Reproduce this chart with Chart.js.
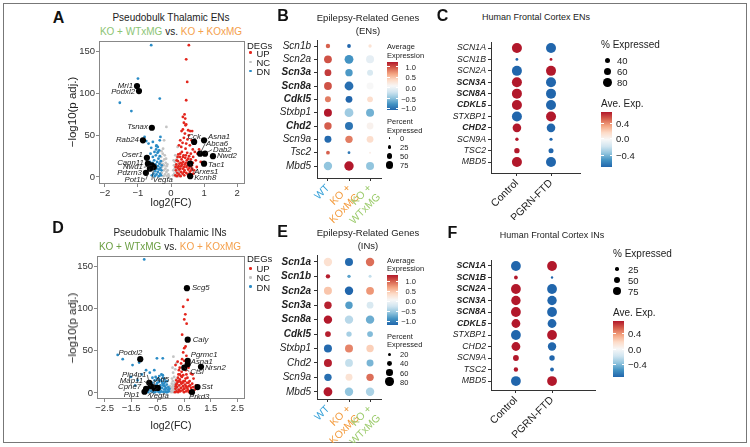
<!DOCTYPE html>
<html>
<head>
<meta charset="utf-8">
<script src="https://cdn.jsdelivr.net/npm/chart.js@4.4.1/dist/chart.umd.min.js"></script>
<style>
  body { margin: 0; background: #fff; }
  #fig { position: relative; width: 750px; height: 447px; overflow: hidden; background: #fff; }
  #fig canvas { position: absolute; }
  .t { position: absolute; white-space: nowrap; line-height: 1; color: #222; }
  .frame { position: absolute; left: 3px; top: 3px; width: 742px; height: 438px; border: 1.5px solid #777; }
</style>
</head>
<body>
<div id="fig"><div class="frame"></div></div>
<script>
// ---------- data ----------
// A: pseudobulk thalamic ENs, points are [log2FC, -log10(p adj.)]
const aUp = [
  [0.13,2],[0.15,8],[0.16,15],[0.18,1],[0.19,5],[0.20,11],[0.21,19],[0.22,27],[0.24,3],[0.25,9],
  [0.26,16],[0.27,24],[0.29,1],[0.30,6],[0.31,13],[0.32,21],[0.33,30],[0.35,4],[0.36,10],[0.37,18],
  [0.38,26],[0.40,2],[0.41,8],[0.42,15],[0.43,23],[0.44,34],[0.46,5],[0.47,12],[0.48,20],[0.49,29],
  [0.51,3],[0.52,9],[0.53,17],[0.55,25],[0.57,6],[0.58,13],[0.60,21],[0.62,3],[0.64,10],[0.66,17],
  [0.14,12],[0.17,20],[0.23,13],[0.28,10],[0.34,15],[0.39,6],[0.45,17],[0.50,14],[0.54,1],[0.56,11],
  [0.59,17],[0.61,8],[0.63,14],[0.68,4],[0.20,24],[0.28,28],[0.36,24],[0.45,26],[0.52,22],[0.60,28],
  [0.67,24],[0.30,17],[0.40,12],[0.70,8],[0.75,20],[0.80,28],[0.85,33],[0.72,30],[0.90,18],[0.78,12],
  [0.24,38],[0.28,44],[0.31,36],[0.35,41],[0.39,47],[0.42,52],[0.46,40],[0.50,45],[0.54,50],[0.57,38],
  [0.62,44],[0.66,33],[0.36,57],[0.44,62],[0.52,56],[0.58,55],[0.64,55],[0.32,55],[0.36,72],[0.43,70],
  [0.39,65],[0.46,63],[0.41,75],[0.54,158],[0.46,141],[0.49,114],[0.46,92]
];
const aNc = [
  [-0.33,2],[-0.32,9],[-0.31,16],[-0.30,24],[-0.28,5],[-0.27,12],[-0.26,19],[-0.25,28],[-0.23,1],[-0.22,8],
  [-0.21,14],[-0.20,21],[-0.18,3],[-0.17,10],[-0.16,17],[-0.14,6],[-0.13,13],[-0.12,1],[-0.10,8],[-0.08,3],
  [-0.06,1],[-0.24,34],[-0.19,26],[-0.15,22],[-0.21,44],[-0.14,60],[-0.29,31],[-0.11,15],[-0.24,15],
  [0.06,2],[0.07,8],[0.09,14],[0.10,4],[0.11,10],[0.12,18],[0.14,1],[0.15,6],[0.16,12],[0.18,22],
  [0.19,3],[0.20,9],[0.22,15],[0.23,1],[0.25,6],[0.26,11],[0.08,20],[0.13,26],[0.20,36],[0.27,2]
];
const aDn = [
  [-0.58,2],[-0.57,9],[-0.56,17],[-0.55,24],[-0.53,4],[-0.52,12],[-0.51,20],[-0.49,1],[-0.48,7],[-0.47,15],
  [-0.46,26],[-0.45,33],[-0.44,3],[-0.43,10],[-0.42,18],[-0.41,29],[-0.40,6],[-0.39,13],[-0.38,22],[-0.37,1],
  [-0.36,9],[-0.35,16],[-0.34,25],[-0.33,4],[-0.32,11],[-0.31,19],[-0.30,2],[-0.29,8],[-0.28,14],[-0.50,30],
  [-0.44,38],[-0.40,36],[-0.36,32],[-0.62,28],[-0.64,18],[-0.66,10],[-0.60,158],[-1.00,118],[-1.55,89],
  [-1.20,79],[-0.34,94],[-0.75,43],[-0.68,40],[-0.45,37],[-0.34,44],[-0.32,48],[-0.80,48],[-0.55,42],
  [-0.39,30],[-0.60,35]
];
const aGenes = [
  ['Mri1',-1.03,109],['Podxl2',-0.97,103],['Tsnax',-0.58,59],['Rab24',-0.85,44],['Oser1',-0.73,23],
  ['Capn11',-0.70,16],['Nwd1',-0.58,14],['Pdzrn3',-0.76,5],['Pot1b',-0.64,10],['Vegfa',-0.52,12],
  ['Cck',0.70,42],['Asna1',1.00,44],['Abca6',0.88,28],['Dab2',1.03,28],['Nwd2',1.27,25],
  ['Tac1',1.00,16],['Arxes1',0.58,16],['Kcnh8',0.58,1]
];
const aXTicks = [-2, -1, 0, 1, 2];
const aYTicks = [0, 50, 100, 150];

// D: pseudobulk thalamic INs
const dUp = [
  [0.15,1],[0.17,5],[0.19,10],[0.21,2],[0.23,7],[0.25,13],[0.27,1],[0.29,4],[0.31,9],[0.33,16],
  [0.35,2],[0.37,6],[0.39,11],[0.41,19],[0.43,3],[0.45,8],[0.47,14],[0.49,1],[0.51,5],[0.53,10],
  [0.55,17],[0.57,2],[0.59,7],[0.61,12],[0.64,3],[0.67,8],[0.70,14],[0.73,2],[0.76,6],[0.80,11],
  [0.85,17],[0.90,4],[0.94,9],[0.81,22],[0.75,23],[0.40,25],[0.28,22],[0.20,15],[0.36,13],[0.46,21],
  [0.62,18],[0.68,1],[0.26,18],[0.52,14],[0.58,22],[0.22,11],[0.32,3],[0.44,12],[0.48,5],[0.56,8],
  [0.66,12],[0.72,9],[0.78,1],[0.84,7],[0.30,14],[0.38,20],[0.62,5],[0.18,8],
  [0.17,33],[0.25,37],[0.33,30],[0.42,40],[0.46,48],
  [0.58,44],[0.56,27],[0.33,22],[0.38,35],[0.50,38],[0.66,30],[0.30,27],[0.63,110],[0.46,102],[0.54,93],
  [0.50,87],[0.59,82],[0.42,69],[0.55,55],[0.50,53]
];
const dNc = [
  [0.01,1],[0.02,6],[0.03,11],[0.05,3],[0.06,8],[0.07,14],[0.09,1],[0.10,5],[0.11,10],[0.13,2],
  [0.14,7],[0.15,12],[0.17,4],[0.18,9],[0.20,1],[0.21,6],[0.23,3],[0.24,8],[0.04,17],[0.12,19],
  [0.08,24],[0.16,28],[0.09,43],[0.20,35],[-0.03,3],[-0.05,8],[0.19,16],[0.06,30]
];
const dDn = [
  [-0.95,2],[-0.90,6],[-0.86,1],[-0.82,4],[-0.78,9],[-0.75,2],[-0.72,6],[-0.70,12],[-0.67,3],[-0.64,8],
  [-0.62,15],[-0.60,1],[-0.57,5],[-0.55,10],[-0.53,17],[-0.50,2],[-0.48,7],[-0.46,13],[-0.44,1],[-0.42,4],
  [-0.40,9],[-0.38,15],[-0.36,2],[-0.34,6],[-0.32,11],[-0.30,18],[-0.28,1],[-0.26,4],[-0.24,8],[-0.22,13],
  [-0.20,2],[-0.18,6],[-0.16,10],[-0.14,1],[-0.12,4],[-0.10,7],[-0.08,2],[-0.06,5],[-0.44,20],[-0.58,19],
  [-0.25,16],[-0.36,22],[-0.70,18],[-0.85,12],[-0.52,12],[-0.29,9],[-0.15,14],[-0.66,1],
  [-0.41,1],[-0.34,13],[-0.47,3],[-0.56,7],[-0.21,5],[-0.27,11],[-0.39,6],[-0.62,4],[-0.18,1],[-0.45,16],
  [-1.01,158],[-2.01,45],[-1.82,40],[-1.45,33],[-1.20,36],[-0.53,41],[-0.31,41],[-0.94,27],[-1.51,19],
  [-1.26,15],[-0.63,27],[-0.31,21],[-1.10,22],[-0.80,24],[-1.35,9]
];
const dGenes = [
  ['Scg5',0.60,124],['Caly',0.63,63],['Podxl2',-1.16,40],['Pgrmc1',0.63,38],['Asna1',0.63,34],
  ['Nrsn2',1.13,31],['Ctsl',0.50,30],['Sst',1.00,7],['Prkd3',0.79,1],['Pip4p1',-0.82,12],
  ['Map11',-0.75,8],['Cpne7',-0.94,5],['Plp1',-1.00,1.5],['Atf5',-0.63,6],['Vegfa',-0.50,6]
];
const dXTicks = [-2.5, -1.5, -0.5, 0.5, 1.5, 2.5];
const dYTicks = [0, 50, 100, 150];

// B / E: mouse dot plots, rows = genes, columns = groups
const mouseGroups = [['WT'], ['KO +', 'KOxMG'], ['KO +', 'WTxMG']];
const bGenes = ['Scn1b','Scn2a','Scn3a','Scn8a','Cdkl5','Stxbp1','Chd2','Scn9a','Tsc2','Mbd5'];
const bBold = ['Scn3a','Scn8a','Cdkl5','Chd2'];
const bPct = [[33,26,21],[74,86,76],[62,69,52],[74,86,64],[52,62,50],[76,86,76],[69,76,62],[64,69,62],[26,14,5],[81,93,76]];
const bAvg = [[0.75,-1.0,0.18],[0.8,-0.75,-0.12],[0.88,-0.72,-0.2],[0.8,-0.95,0.0],[0.65,-1.0,0.22],
              [1.0,-0.45,-0.6],[0.76,-0.92,0.05],[-0.98,0.65,0.22],[0.75,-0.9,0.08],[-0.5,1.0,-0.5]];
const eGenes = ['Scn1a','Scn1b','Scn2a','Scn3a','Scn8a','Cdkl5','Stxbp1','Chd2','Scn9a','Mbd5'];
const eBold = ['Scn1a','Scn1b','Scn2a','Scn3a','Scn8a','Cdkl5'];
const ePct = [[81,76,81],[33,21,17],[76,81,74],[69,69,62],[81,81,81],[50,45,50],[76,76,69],[76,74,64],[69,64,69],[86,81,81]];
const eAvg = [[0.2,-0.98,0.7],[0.98,-0.68,-0.3],[0.35,-1.0,0.55],[0.97,-0.7,-0.2],[1.0,-0.35,-0.62],
              [0.98,-0.42,-0.55],[-0.98,0.62,0.3],[0.98,-0.3,-0.58],[-0.95,0.18,0.7],[1.0,-0.5,-0.4]];
const bSizeKeys = [0, 25, 50, 75];
const eSizeKeys = [20, 40, 60, 80];

// C / F: human frontal cortex dot plots
const humanGroups = ['Control', 'PGRN-FTD'];
const humanGenes = ['SCN1A','SCN1B','SCN2A','SCN3A','SCN8A','CDKL5','STXBP1','CHD2','SCN9A','TSC2','MBD5'];
const cBold = ['SCN3A','SCN8A','CDKL5','CHD2'];
const fBold = ['SCN1A','SCN1B','SCN2A','SCN3A','SCN8A','CDKL5'];
const cPct = [[90,90],[18,18],[90,90],[90,90],[90,90],[90,90],[90,90],[76,76],[24,22],[44,40],[90,90]];
const cAvg = [[0.71,-0.71],[-0.71,0.71],[-0.71,0.71],[0.71,-0.71],[0.71,-0.71],[0.71,-0.71],
              [-0.71,0.71],[0.71,-0.71],[0.71,-0.71],[0.71,-0.71],[0.71,-0.71]];
const fPct = [[88,88],[28,14],[88,88],[84,84],[88,88],[78,78],[88,88],[78,74],[48,44],[34,28],[88,88]];
const fAvg = [[-0.71,0.71],[0.71,-0.71],[0.71,-0.71],[0.71,-0.71],[0.71,-0.71],[0.71,-0.71],
              [-0.71,0.71],[0.71,-0.71],[0.71,-0.71],[0.71,-0.71],[-0.71,0.71]];
const cSizeKeys = [40, 60, 80];
const fSizeKeys = [25, 50, 75];

// ---------- style ----------
const FONT = "'Liberation Sans', Arial, Helvetica, sans-serif";
const RED = '#e3261d', BLUE = '#2b8cc6', GRAY = '#c4c4c4';
const GREEN_A = '#8cc474', GREEN_D = '#6c9f43', ORANGE = '#f4a04c';
const GROUP_COLORS = ['#35a0d8', '#f39a3b', '#9ccb6c'];
const RDBU = ['#2166ac','#4393c3','#92c5de','#d1e5f0','#f7f7f7','#fddbc7','#f4a582','#d6604d','#b2182b'];
// gene label offsets [dx, dy, align, leader]
const aLab = [
  [-4,0,'right',0],[-4,1,'right',0],[-4,-1,'right',0],[-4,0,'right',0],[-4,-3,'right',0],
  [-4,-1,'right',0],[-9,2,'right',1],[-4,0,'right',0],[-5,11,'right',1],[-1,13,'left',1],
  [0,-5,'center',0],[4,-3,'left',0],[6,-10,'left',1],[8,-4,'left',1],[4,0,'left',0],
  [4,1,'left',0],[4,8,'left',1],[4,2,'left',0]
];
const dLab = [
  [5,0,'left',0],[5,0,'left',0],[2,-6,'right',0],[3,-6,'left',0],[3,-2,'left',0],
  [4,1,'left',0],[6,4,'left',1],[4,0,'left',0],[-3,5,'left',0],[-3,-8,'right',1],
  [-8,-5,'right',1],[-5,-2,'right',0],[-5,3,'right',0],[1,-8,'left',1],[-9,8,'left',1]
];
const rMouse = p => 0.8 + 0.042 * p;
const rHuman = p => 0.5 + 0.05 * p;

// ---------- helpers ----------
const fig = document.getElementById('fig');

function txt(html, x, y, o = {}) {
  const d = document.createElement('div');
  d.className = 't';
  d.innerHTML = html;
  const ax = o.align === 'left' ? '0' : o.align === 'right' ? '-100%' : '-50%';
  d.style.left = x + 'px';
  d.style.top = y + 'px';
  d.style.transform = 'translate(' + ax + ',-50%)' + (o.rot ? ' rotate(' + o.rot + 'deg)' : '');
  d.style.font = (o.style || 'normal') + ' ' + (o.weight || 'normal') + ' ' + (o.size || 10) + 'px ' + FONT;
  if (o.color) d.style.color = o.color;
  fig.appendChild(d);
}

function box(l, t, w, h, bg) {
  const d = document.createElement('div');
  Object.assign(d.style, { position: 'absolute', left: l + 'px', top: t + 'px', width: w + 'px', height: h + 'px', background: bg });
  fig.appendChild(d);
  return d;
}

function dot(x, y, r, col) {
  box(x - r, y - r, 2 * r, 2 * r, col).style.borderRadius = '50%';
}

// colour bar with white tick marks at the label positions
function colorbar(l, t, w, h, tickYs) {
  box(l, t, w, h, 'linear-gradient(to bottom,' + RDBU.slice().reverse().join(',') + ')');
  tickYs.forEach(y => {
    box(l, y - 0.5, 2.5, 1, '#fff');
    box(l + w - 2.5, y - 0.5, 2.5, 1, '#fff');
  });
}

function hex2rgb(h) {
  const n = parseInt(h.slice(1), 16);
  return [n >> 16, (n >> 8) & 255, n & 255];
}

function rdbu(v, lim) {
  const t = (Math.max(-lim, Math.min(lim, v)) + lim) / (2 * lim) * (RDBU.length - 1);
  const i = Math.min(Math.floor(t), RDBU.length - 2), f = t - i;
  const a = hex2rgb(RDBU[i]), b = hex2rgb(RDBU[i + 1]);
  return 'rgb(' + a.map((c, k) => Math.round(c + (b[k] - c) * f)).join(',') + ')';
}

function canvasAt(b) {
  const c = document.createElement('canvas');
  c.width = b.w;
  c.height = b.h;
  c.style.left = b.l + 'px';
  c.style.top = b.t + 'px';
  fig.appendChild(c);
  return c;
}

const fmt = v => (v < 0 ? '\u2212' : '') + Math.abs(v);

function boxPlugin(col) {
  return {
    id: 'box',
    afterDatasetsDraw(chart) {
      const { ctx, chartArea: ca } = chart;
      ctx.save();
      ctx.strokeStyle = col;
      ctx.lineWidth = 1;
      ctx.strokeRect(ca.left + 0.5, ca.top + 0.5, ca.width - 1, ca.height - 1);
      ctx.restore();
    }
  };
}

function geneLabels(genes, offs) {
  return {
    id: 'genelabels',
    afterDatasetsDraw(chart) {
      const { ctx, scales: { x, y } } = chart;
      ctx.save();
      ctx.font = 'italic 7.8px ' + FONT;
      ctx.fillStyle = '#222';
      ctx.strokeStyle = '#222';
      ctx.lineWidth = 0.7;
      ctx.textBaseline = 'middle';
      genes.forEach((g, i) => {
        const [dx, dy, al, lead] = offs[i];
        const px = x.getPixelForValue(g[1]), py = y.getPixelForValue(g[2]);
        const tx = px + dx, ty = py + dy;
        if (lead) {
          ctx.beginPath();
          ctx.moveTo(px, py);
          ctx.lineTo(tx + (al === 'left' ? -1 : al === 'right' ? 1 : 0), ty);
          ctx.stroke();
        }
        ctx.textAlign = al;
        ctx.fillText(g[0], tx, ty);
      });
      ctx.restore();
    }
  };
}

function volcano(b, a, xr, yr, xt, yt, up, nc, dn, genes, labs) {
  const pts = arr => arr.map(p => ({ x: p[0], y: p[1] }));
  const ds = (data, col, r) => ({ data, pointBackgroundColor: col, backgroundColor: col, pointRadius: r, pointBorderWidth: 0 });
  const tickFont = { family: FONT, size: 9.5 };
  new Chart(canvasAt(b), {
    type: 'scatter',
    data: {
      datasets: [
        ds(genes.map(g => ({ x: g[1], y: g[2] })), '#000', 3.1),
        ds(pts(up), RED, 1.4),
        ds(pts(dn), BLUE, 1.4),
        ds(pts(nc), GRAY, 1.4)
      ]
    },
    options: {
      responsive: false, animation: false, events: [],
      layout: { padding: { left: 0, top: a.t - b.t, right: b.l + b.w - a.r, bottom: 0 } },
      plugins: { legend: { display: false }, tooltip: { enabled: false } },
      scales: {
        x: {
          type: 'linear', min: xr[0], max: xr[1],
          afterBuildTicks: s => { s.ticks = xt.map(v => ({ value: v })); },
          afterFit: s => { s.height = b.t + b.h - a.b; },
          ticks: { font: tickFont, color: '#333', padding: 1, callback: fmt, maxRotation: 0, autoSkip: false },
          grid: { drawOnChartArea: false, tickLength: 3, color: '#888' },
          border: { display: false }
        },
        y: {
          type: 'linear', min: yr[0], max: yr[1],
          afterBuildTicks: s => { s.ticks = yt.map(v => ({ value: v })); },
          afterFit: s => { s.width = a.l - b.l; },
          ticks: { font: tickFont, color: '#333', padding: 1, callback: fmt, autoSkip: false },
          grid: { drawOnChartArea: false, tickLength: 3, color: '#888' },
          border: { display: false }
        }
      }
    },
    plugins: [boxPlugin('#888'), geneLabels(genes, labs)]
  });
}

function dotplot(b, a, genes, bold, groups, pct, avg, xr, yr, rFn, lim, yFont, xFont, xColors, yPad) {
  const pts = [], cols = [];
  genes.forEach((g, i) => groups.forEach((_, j) => {
    pts.push({ x: j, y: i, r: rFn(pct[i][j]) });
    cols.push(rdbu(avg[i][j], lim));
  }));
  new Chart(canvasAt(b), {
    type: 'bubble',
    data: { datasets: [{ data: pts, backgroundColor: cols, borderWidth: 0 }] },
    options: {
      responsive: false, animation: false, events: [],
      layout: { padding: { left: 0, top: a.t - b.t, right: b.l + b.w - a.r, bottom: 0 } },
      plugins: { legend: { display: false }, tooltip: { enabled: false } },
      scales: {
        x: {
          type: 'linear', min: xr[0], max: xr[1],
          afterBuildTicks: s => { s.ticks = groups.map((_, j) => ({ value: j })); },
          afterFit: s => { s.height = b.t + b.h - a.b; },
          ticks: {
            callback: v => groups[v], color: c => xColors[c.index], font: xFont,
            minRotation: 45, maxRotation: 45, autoSkip: false, padding: 1
          },
          grid: { drawOnChartArea: false, tickLength: 3, color: '#333' },
          border: { color: '#333' }
        },
        y: {
          type: 'linear', reverse: true, min: yr[0], max: yr[1],
          afterBuildTicks: s => { s.ticks = genes.map((_, i) => ({ value: i })); },
          afterFit: s => { s.width = a.l - b.l; },
          ticks: {
            callback: v => genes[v], color: '#222', autoSkip: false, padding: yPad,
            font: c => Object.assign({}, yFont, { weight: bold.includes(genes[c.index]) ? 'bold' : 'normal' })
          },
          grid: { drawOnChartArea: false, tickLength: 3, color: '#333' },
          border: { color: '#333' }
        }
      }
    }
  });
}

// ---------- panel A ----------
txt('A', 58.5, 18, { size: 16, weight: 'bold', color: '#111' });
txt('Pseudobulk Thalamic ENs', 171, 17, { size: 10 });
txt('<span style="color:' + GREEN_A + '">KO + WTxMG</span> vs. <span style="color:' + ORANGE + '">KO + KOxMG</span>', 171, 31, { size: 10 });
volcano({ l: 40, t: 29, w: 215, h: 190 }, { l: 99, t: 41, r: 245, b: 184 },
  [-2.18, 2.24], [-8.4, 163], aXTicks, aYTicks, aUp, aNc, aDn, aGenes, aLab);
txt('log2(FC)', 171, 202, { size: 10.5 });
txt('\u2212log10(p adj.)', 72, 112, { size: 11.5, rot: -90 });
txt('DEGs', 247, 45, { align: 'left', size: 9.5 });
[['UP', RED, 52.7], ['NC', GRAY, 62], ['DN', BLUE, 71]].forEach(([s, c, y]) => {
  dot(250.5, y, 1.3, c);
  txt(s, 256.5, y, { align: 'left', size: 9.5 });
});

// ---------- panel D ----------
txt('D', 58, 228, { size: 16, weight: 'bold', color: '#111' });
txt('Pseudobulk Thalamic INs', 170, 232, { size: 10 });
txt('<span style="color:' + GREEN_D + '">KO + WTxMG</span> vs. <span style="color:' + ORANGE + '">KO + KOxMG</span>', 170, 246, { size: 10 });
volcano({ l: 38, t: 244, w: 217, h: 190 }, { l: 97, t: 256, r: 245, b: 399 },
  [-2.79, 2.79], [-7.1, 162], dXTicks, dYTicks, dUp, dNc, dDn, dGenes, dLab);
txt('log2(FC)', 171, 425, { size: 10.5 });
txt('\u2212log10(p adj.)', 72, 328, { size: 11.5, rot: -90 });
txt('DEGs', 247, 258.3, { align: 'left', size: 9.5 });
[['UP', RED, 268.3], ['NC', GRAY, 277.3], ['DN', BLUE, 286.7]].forEach(([s, c, y]) => {
  dot(250.5, y, 1.3, c);
  txt(s, 256.5, y, { align: 'left', size: 9.5 });
});

// ---------- panel B ----------
const mouseYFont = { family: FONT, size: 10, style: 'italic' };
const mouseXFont = { family: FONT, size: 10.5 };
txt('B', 283, 16, { size: 16, weight: 'bold', color: '#111' });
txt('Epilepsy-Related Genes', 368, 17, { size: 9.5 });
txt('(ENs)', 368, 29.5, { size: 9.5 });
dotplot({ l: 255, t: 28, w: 150, h: 200 }, { l: 317, t: 40, r: 381, b: 178 },
  bGenes, bBold, mouseGroups, bPct, bAvg, [-0.52, 2.52], [-0.45, 9.9], rMouse, 1, mouseYFont, mouseXFont, GROUP_COLORS, 3);
txt('Average', 387, 46, { align: 'left', size: 7.5 });
txt('Expression', 387, 54.5, { align: 'left', size: 7.5 });
const bBarYs = [66.7, 77, 87.7, 98.7, 108];
colorbar(387, 62, 11, 48, bBarYs);
['1.0', '0.5', '0.0', '\u22120.5', '\u22121.0'].forEach((s, i) =>
  txt(s, 416, bBarYs[i], { align: 'right', size: 7.5 }));
txt('Percent', 387, 121, { align: 'left', size: 7.5 });
txt('Expressed', 387, 130, { align: 'left', size: 7.5 });
bSizeKeys.forEach((p, i) => {
  const y = 138 + i * 9;
  dot(389.5, y, rMouse(p), '#000');
  txt(String(p), 400, y, { align: 'left', size: 7.5 });
});

// ---------- panel E ----------
txt('E', 282.5, 232, { size: 16, weight: 'bold', color: '#111' });
txt('Epilepsy-Related Genes', 368, 232, { size: 9.5 });
txt('(INs)', 368, 245, { size: 9.5 });
dotplot({ l: 255, t: 243, w: 150, h: 200 }, { l: 317, t: 255, r: 381, b: 399 },
  eGenes, eBold, mouseGroups, ePct, eAvg, [-0.52, 2.52], [-0.48, 9.5], rMouse, 1, mouseYFont, mouseXFont, GROUP_COLORS, 3);
txt('Average', 387, 260, { align: 'left', size: 7.5 });
txt('Expression', 387, 268.3, { align: 'left', size: 7.5 });
const eBarYs = [281, 291, 301, 311, 321];
colorbar(387, 275, 11, 50, eBarYs);
['1.0', '0.5', '0.0', '\u22120.5', '\u22121.0'].forEach((s, i) =>
  txt(s, 416, eBarYs[i], { align: 'right', size: 7.5 }));
txt('Percent', 387, 335.7, { align: 'left', size: 7.5 });
txt('Expressed', 387, 344, { align: 'left', size: 7.5 });
eSizeKeys.forEach((p, i) => {
  const y = 354.3 + i * 9.1;
  dot(389.5, y, rMouse(p), '#000');
  txt(String(p), 400, y, { align: 'left', size: 7.5 });
});

// ---------- panel C ----------
const humanYFont = { family: FONT, size: 8.7, style: 'italic' };
const humanXFont = { family: FONT, size: 10.5 };
txt('C', 442.5, 16, { size: 16, weight: 'bold', color: '#111' });
txt('Human Frontal Cortex ENs', 536, 17, { size: 9 });
dotplot({ l: 430, t: 30, w: 175, h: 190 }, { l: 491, t: 42, r: 580, b: 173 },
  humanGenes, cBold, humanGroups, cPct, cAvg, [-0.76, 1.85], [-0.53, 10.96], rHuman, 0.71, humanYFont, humanXFont, ['#222', '#222'], 2);
txt('% Expressed', 601, 44, { align: 'left', size: 10 });
cSizeKeys.forEach((p, i) => {
  const y = 60 + i * 11;
  dot(607, y, rHuman(p), '#000');
  txt(String(p), 617, y, { align: 'left', size: 9.5 });
});
txt('Ave. Exp.', 601, 103, { align: 'left', size: 10 });
const cBarYs = [123.3, 138.3, 155];
colorbar(601, 112, 11, 55, cBarYs);
['0.4', '0.0', '\u22120.4'].forEach((s, i) =>
  txt(s, 616, cBarYs[i], { align: 'left', size: 9.5 }));

// ---------- panel F ----------
txt('F', 452.5, 233, { size: 16, weight: 'bold', color: '#111' });
txt('Human Frontal Cortex INs', 552, 235, { size: 9 });
dotplot({ l: 430, t: 248, w: 190, h: 192 }, { l: 491, t: 260, r: 595, b: 390 },
  humanGenes, fBold, humanGroups, fPct, fAvg, [-0.69, 2.19], [-0.52, 10.78], rHuman, 0.71, humanYFont, humanXFont, ['#222', '#222'], 2);
txt('% Expressed', 613, 253.3, { align: 'left', size: 10 });
fSizeKeys.forEach((p, i) => {
  const y = 269 + i * 11;
  dot(617, y, rHuman(p), '#000');
  txt(String(p), 628, y, { align: 'left', size: 9.5 });
});
txt('Ave. Exp.', 613, 312.3, { align: 'left', size: 10 });
const fBarYs = [333.3, 349, 364.3];
colorbar(613, 321, 11, 56, fBarYs);
['0.4', '0.0', '\u22120.4'].forEach((s, i) =>
  txt(s, 628, fBarYs[i], { align: 'left', size: 9.5 }));
</script>
</body>
</html>
